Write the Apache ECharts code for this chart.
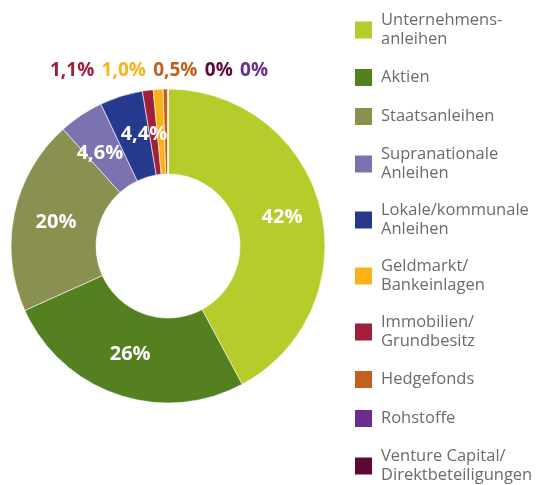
<!DOCTYPE html>
<html>
<head>
<meta charset="utf-8">
<script src="https://cdn.jsdelivr.net/npm/echarts@6/dist/echarts.min.js"></script>
<style>
  html, body { margin: 0; padding: 0; background: #fff; }
  #container { width: 538px; height: 485px; }
</style>
</head>
<body>
<div id="container"></div>
<script>
// slices in the order they run round the ring (clockwise from the top)
var categories = ['Unternehmens-\nanleihen', 'Aktien', 'Staatsanleihen', 'Supranationale\nAnleihen',
	'Lokale/kommunale\nAnleihen', 'Immobilien/\nGrundbesitz', 'Geldmarkt/\nBankeinlagen',
	'Hedgefonds', 'Venture Capital/\nDirektbeteiligungen', 'Rohstoffe'];
var values = [42, 26, 20, 4.6, 4.4, 1.1, 1.0, 0.5, 0, 0];
var labels = ['42%', '26%', '20%', '4,6%', '4,4%', '1,1%', '1,0%', '0,5%', '0%', '0%'];
// legend order differs from the ring order
var legendOrder = ['Unternehmens-\nanleihen', 'Aktien', 'Staatsanleihen', 'Supranationale\nAnleihen',
	'Lokale/kommunale\nAnleihen', 'Geldmarkt/\nBankeinlagen', 'Immobilien/\nGrundbesitz',
	'Hedgefonds', 'Rohstoffe', 'Venture Capital/\nDirektbeteiligungen'];

var colors = ['#b6cc2b', '#55801f', '#8a9150', '#7b72b0', '#26398c', '#a0203a', '#fbb216', '#c2601f', '#5c0839', '#6b2e8f'];
var insideCount = 5; // slices big enough for a label inside the ring
// small nudges of the inside labels (dx, dy)
var labelNudge = { 2 : [3, 1], 3 : [-3, 5], 4 : [11, 0], 1 : [0, -3] };

var dom = document.getElementById('container');
var myChart = echarts.init(dom);

var data = [];
for (var i = 0; i < categories.length; i++) {
	data.push({
		name : categories[i],
		value : values[i],
		itemStyle : { color : colors[i] },
		label : { show : i < insideCount }
	});
}

// small slices: labels in a row above the ring
var rich = {};
var parts = [];
for (var j = insideCount; j < categories.length; j++) {
	var key = 'c' + j;
	rich[key] = { fill : colors[j], fontSize : 19, fontWeight : 'bold', fontFamily : 'Open Sans', padding : [0, 2] };
	parts.push('{' + key + '|' + labels[j] + '}');
}

var option = {
	animation : false,
	color : colors,
	legend : {
		orient : 'vertical',
		left : 348,
		top : 6,
		height : 490,
		itemWidth : 19,
		itemHeight : 19,
		itemGap : 18,
		icon : 'rect',
		selectedMode : false,
		data : legendOrder,
		textStyle : {
			color : '#6b6b6b',
			fontSize : 16.5,
			lineHeight : 19,
			padding : [0, 0, 0, 3],
			fontFamily : 'Open Sans'
		}
	},
	graphic : [ {
		type : 'text',
		left : 50,
		top : 61,
		style : {
			text : parts.join(' '),
			rich : rich
		}
	} ],
	series : [ {
		type : 'pie',
		center : [168, 246],
		radius : [72, 157],
		startAngle : 90,
		clockwise : true,
		avoidLabelOverlap : false,
		minShowLabelAngle : 0,
		itemStyle : { borderColor : '#fff', borderWidth : 0.6 },
		label : {
			position : 'inside',
			color : '#fff',
			fontSize : 20,
			fontWeight : 'bold',
			fontFamily : 'Open Sans',
			overflow : 'none',
			formatter : function (p) { return labels[p.dataIndex]; }
		},
		labelLayout : function (p) {
			var n = labelNudge[p.dataIndex] || [0, 0];
			return { dx : n[0], dy : n[1], hideOverlap : false };
		},
		labelLine : { show : false },
		emphasis : { disabled : true },
		data : data
	} ]
};

myChart.setOption(option, true);
</script>
</body>
</html>
